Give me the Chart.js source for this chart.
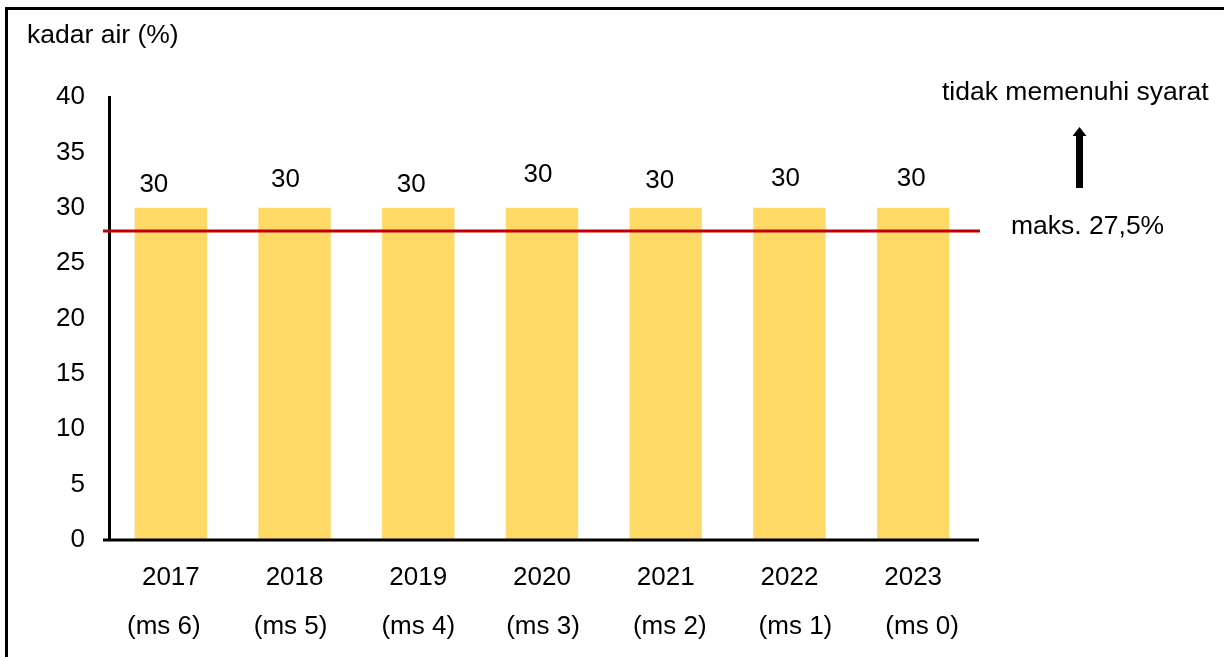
<!DOCTYPE html>
<html>
<head>
<meta charset="utf-8">
<script src="https://cdn.jsdelivr.net/npm/chart.js@4.4.1/dist/chart.umd.min.js"></script>
<style>
  html, body { margin: 0; padding: 0; background: #fff; }
  body { width: 1224px; height: 657px; position: relative; overflow: hidden; }
  #frame { position: absolute; left: 5px; top: 7px; width: 1300px; height: 700px;
           border-top: 3px solid #000; border-left: 3px solid #000; }
  canvas { position: absolute; left: 0; top: 0; }
</style>
</head>
<body>
<div id="frame"></div>
<canvas id="chart" width="1224" height="657"></canvas>
<script>
// data
const years = ['2017', '2018', '2019', '2020', '2021', '2022', '2023'];
const phases = ['(ms 6)', '(ms 5)', '(ms 4)', '(ms 3)', '(ms 2)', '(ms 1)', '(ms 0)'];
const moisture = [30, 30, 30, 30, 30, 30, 30];
const yTicks = [0, 5, 10, 15, 20, 25, 30, 35, 40];
const limitLine = 27.9; // where the red line sits in the picture
const limitText = 'maks. 27,5%';
const yTitle = 'kadar air (%)';
const noteText = 'tidak memenuhi syarat';

// hand nudges (px) of the value labels: [dx from bar centre, rise above bar top]
const labelNudge = [[-17, 16], [-9, 21], [-7, 16], [-4, 26], [-6, 20], [-4, 22], [-2, 22]];
// hand nudges (px) of the second label row
const phaseNudge = [-7, -4, 0, 1, 4, 6, 9];

const FONT = '"Liberation Sans", Arial, sans-serif';
Chart.defaults.color = '#000';
Chart.defaults.font.family = FONT;

const extras = {
  id: 'extras',
  afterDatasetsDraw(chart) {
    const { ctx, scales, chartArea } = chart;
    const meta = chart.getDatasetMeta(0);
    ctx.save();
    ctx.fillStyle = '#000';
    ctx.textBaseline = 'alphabetic';

    // value labels
    ctx.font = '26px ' + FONT;
    ctx.textAlign = 'center';
    meta.data.forEach((bar, i) => {
      const n = labelNudge[i] || [0, 20];
      ctx.fillText(String(moisture[i]), bar.x + n[0], bar.y - n[1]);
    });

    // second row of category labels
    ctx.textBaseline = 'middle';
    phases.forEach((p, i) => {
      ctx.fillText(p, scales.x.getPixelForTick(i) + (phaseNudge[i] || 0), 627);
    });
    ctx.textBaseline = 'alphabetic';

    // x axis line, a bit longer than the plot area
    const y0 = scales.y.getPixelForValue(0);
    ctx.strokeStyle = '#000';
    ctx.lineWidth = 3;
    ctx.beginPath();
    ctx.moveTo(chartArea.left - 6, y0);
    ctx.lineTo(chartArea.right + 4, y0);
    ctx.stroke();

    // limit line
    const yl = scales.y.getPixelForValue(limitLine);
    ctx.strokeStyle = '#C00000';
    ctx.beginPath();
    ctx.moveTo(chartArea.left - 6, yl);
    ctx.lineTo(chartArea.right + 5, yl);
    ctx.stroke();

    // texts
    ctx.font = '26.5px ' + FONT;
    ctx.textAlign = 'left';
    ctx.fillText(yTitle, 27, 43);
    ctx.fillText(noteText, 942, 100);
    ctx.fillText(limitText, 1011, yl + 3);

    // arrow
    const ax = 1079.5;
    ctx.fillRect(ax - 3.5, 135, 7, 53);
    ctx.beginPath();
    ctx.moveTo(ax, 127);
    ctx.lineTo(ax + 7, 136);
    ctx.lineTo(ax - 7, 136);
    ctx.closePath();
    ctx.fill();
    ctx.restore();
  }
};

new Chart(document.getElementById('chart'), {
  type: 'bar',
  data: {
    labels: years,
    datasets: [{
      data: moisture,
      backgroundColor: '#FFD966',
      categoryPercentage: 1,
      barPercentage: 0.585
    }]
  },
  options: {
    responsive: false,
    animation: false,
    layout: { padding: { top: 97, right: 249, bottom: 0, left: 0 } },
    plugins: { legend: { display: false }, tooltip: { enabled: false } },
    scales: {
      x: {
        grid: { display: false, drawTicks: false },
        border: { display: false },
        ticks: { font: { size: 26 }, padding: 22, maxRotation: 0, autoSkip: false },
        afterFit(scale) { scale.height = 117; }
      },
      y: {
        min: 0,
        max: 40,
        afterBuildTicks(scale) { scale.ticks = yTicks.map(v => ({ value: v })); },
        grid: { display: false, drawTicks: false },
        border: { display: true, color: '#000', width: 3 },
        ticks: { font: { size: 26 }, padding: 24 },
        afterFit(scale) { scale.width = 109; }
      }
    }
  },
  plugins: [extras]
});
</script>
</body>
</html>
